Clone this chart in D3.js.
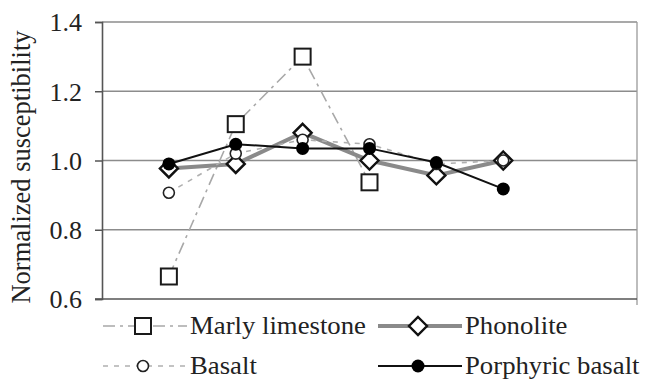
<!DOCTYPE html>
<html>
<head>
<meta charset="utf-8">
<script src="https://cdn.jsdelivr.net/npm/d3@7.9.0/dist/d3.min.js"></script>
<style>
  body { margin: 0; background: #fff; }
  svg text { font-family: 'Liberation Serif', 'Times New Roman', Tinos, 'DejaVu Serif', serif; fill: #222; }
</style>
</head>
<body>
<svg id="chart" width="646" height="379"></svg>
<script>
const positions = [1, 2, 3, 4, 5, 6];
const marly = [0.665, 1.105, 1.30, 0.937, null, null];
const phonolite = [0.977, 0.99, 1.08, 1.0, 0.957, 1.0];
const basalt = [0.907, 1.02, 1.06, 1.047, 0.99, 1.0];
const porphyric = [0.99, 1.047, 1.035, 1.035, 0.994, 0.918];
const yTicks = [0.6, 0.8, 1.0, 1.2, 1.4];

const serif = "'Liberation Serif', 'Times New Roman', Tinos, 'DejaVu Serif', serif";
const svg = d3.select('#chart');
const margin = { top: 22, right: 9, bottom: 80, left: 102 };
const width = 646 - margin.left - margin.right;
const height = 379 - margin.top - margin.bottom;

const x = d3.scaleLinear().domain([0, 8]).range([margin.left, margin.left + width]);
const y = d3.scaleLinear().domain([0.6, 1.4]).range([margin.top + height, margin.top]);

// gridlines
svg.append('g')
  .selectAll('line')
  .data(yTicks.slice(1))
  .join('line')
  .attr('x1', margin.left).attr('x2', margin.left + width)
  .attr('y1', (d) => y(d)).attr('y2', (d) => y(d))
  .attr('stroke', '#8c8c8c').attr('stroke-width', 1.5);

// right border
svg.append('line')
  .attr('x1', x(8)).attr('x2', x(8))
  .attr('y1', y(1.4)).attr('y2', y(0.6) + 6)
  .attr('stroke', '#9a9a9a').attr('stroke-width', 1.3);

// y axis
const yAxis = d3.axisLeft(y).tickValues(yTicks).tickFormat(d3.format('.1f')).tickSize(7).tickPadding(13);
const gy = svg.append('g').attr('transform', `translate(${margin.left},0)`).call(yAxis)
  .attr('font-family', serif);
gy.select('.domain').attr('stroke', '#555').attr('stroke-width', 1.6);
gy.selectAll('.tick line').attr('stroke', '#555').attr('stroke-width', 1.5);
gy.selectAll('.tick text').attr('font-size', 26).attr('fill', '#222')
  .attr('font-family', serif).attr('dy', '0.34em');

// x axis line
svg.append('line')
  .attr('x1', margin.left - 7).attr('x2', x(8))
  .attr('y1', y(0.6)).attr('y2', y(0.6))
  .attr('stroke', '#555').attr('stroke-width', 1.6);

// y title
svg.append('text')
  .attr('transform', 'translate(30,167) rotate(-90)')
  .attr('text-anchor', 'middle')
  .attr('font-family', serif)
  .attr('font-size', 26.5)
  .text('Normalized susceptibility');

const series = [
  { name: 'Marly limestone', values: marly, stroke: '#a8a8a8', width: 1.6, dash: '12,5,3,5', marker: 'square' },
  { name: 'Phonolite', values: phonolite, stroke: '#8a8a8a', width: 4, dash: null, marker: 'diamond' },
  { name: 'Basalt', values: basalt, stroke: '#b0b0b0', width: 1.6, dash: '5,6', marker: 'circle' },
  { name: 'Porphyric basalt', values: porphyric, stroke: '#111', width: 2, dash: null, marker: 'dot' }
];

const line = d3.line()
  .defined((d) => d.v !== null)
  .x((d) => x(d.p))
  .y((d) => y(d.v));

function drawMarker(g, type, cx, cy) {
  if (type === 'square') {
    g.append('rect').attr('x', cx - 8).attr('y', cy - 8).attr('width', 16).attr('height', 16)
      .attr('fill', '#fff').attr('stroke', '#1a1a1a').attr('stroke-width', 2);
  } else if (type === 'diamond') {
    g.append('path')
      .attr('d', `M${cx},${cy - 9}L${cx + 9},${cy}L${cx},${cy + 9}L${cx - 9},${cy}Z`)
      .attr('fill', '#fff').attr('stroke', '#111').attr('stroke-width', 2.4);
  } else if (type === 'circle') {
    g.append('circle').attr('cx', cx).attr('cy', cy).attr('r', 5.5)
      .attr('fill', '#fff').attr('stroke', '#222').attr('stroke-width', 1.6);
  } else {
    g.append('circle').attr('cx', cx).attr('cy', cy).attr('r', 6.5).attr('fill', '#000');
  }
}

const plot = svg.append('g');
series.forEach((s) => {
  const pts = positions.map((p, i) => ({ p, v: s.values[i] }));
  plot.append('path')
    .datum(pts)
    .attr('d', line)
    .attr('fill', 'none')
    .attr('stroke', s.stroke)
    .attr('stroke-width', s.width)
    .attr('stroke-dasharray', s.dash);
});
series.forEach((s) => {
  const g = plot.append('g');
  positions.forEach((p, i) => {
    if (s.values[i] !== null) drawMarker(g, s.marker, x(p), y(s.values[i]));
  });
});

// legend
const legendPos = [
  { x0: 103, row: 326, base: 334, mx: 143 },
  { x0: 378, row: 326, base: 334, mx: 418 },
  { x0: 103, row: 366, base: 374, mx: 143 },
  { x0: 378, row: 366, base: 374, mx: 418 }
];
series.forEach((s, i) => {
  const lp = legendPos[i];
  const g = svg.append('g');
  g.append('line')
    .attr('x1', lp.x0).attr('x2', lp.x0 + 84)
    .attr('y1', lp.row).attr('y2', lp.row)
    .attr('stroke', s.stroke).attr('stroke-width', s.width)
    .attr('stroke-dasharray', s.dash);
  drawMarker(g, s.marker, lp.mx, lp.row);
  g.append('text')
    .attr('transform', `translate(${lp.x0 + 87},${lp.base}) scale(1.07,1)`)
    .attr('font-family', serif)
    .attr('font-size', 25)
    .text(s.name);
});
</script>
</body>
</html>
